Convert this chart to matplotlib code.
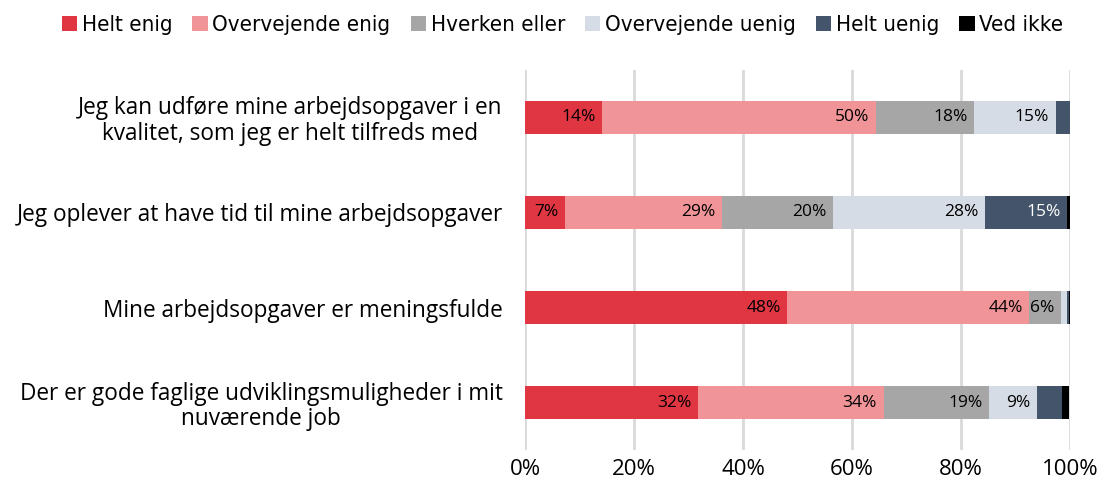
import matplotlib.pyplot as plt
import numpy as np

categories = [
    "Jeg kan udføre mine arbejdsopgaver i en\nkvalitet, som jeg er helt tilfreds med",
    "Jeg oplever at have tid til mine arbejdsopgaver",
    "Mine arbejdsopgaver er meningsfulde",
    "Der er gode faglige udviklingsmuligheder i mit\nnuværende job",
]
series = ["Helt enig", "Overvejende enig", "Hverken eller",
          "Overvejende uenig", "Helt uenig", "Ved ikke"]
colors = ["#e03641", "#f09498", "#a6a6a6", "#d6dce5", "#44546a", "#000000"]
label_colors = ["black", "black", "black", "black", "white", "white"]

helt_enig = [14.1, 7.3, 48.1, 31.7]
overvejende_enig = [50.3, 28.9, 44.4, 34.1]
hverken_eller = [18.0, 20.4, 5.9, 19.4]
overvejende_uenig = [15.0, 27.9, 1.1, 8.8]
helt_uenig = [2.6, 15.0, 0.4, 4.6]
ved_ikke = [0.0, 0.5, 0.1, 1.3]
values = [helt_enig, overvejende_enig, hverken_eller,
          overvejende_uenig, helt_uenig, ved_ikke]

plt.rcParams['font.family'] = ['Open Sans', 'DejaVu Sans']

fig = plt.figure(figsize=(11.03, 4.92), dpi=100)
ax = fig.add_axes([0.476, 0.085, 0.494, 0.773])

y = np.arange(len(categories))
left = np.zeros(len(categories))
for name, vals, c, lc in zip(series, values, colors, label_colors):
    vals = np.array(vals)
    ax.barh(y, vals, left=left, height=0.35, color=c, label=name, zorder=3)
    for i, v in enumerate(vals):
        if v >= 5:
            ax.text(left[i] + v - 1.2, y[i], f"{v:.0f}%", ha='right', va='center',
                    fontsize=12.5, color=lc, zorder=4)
    left += vals

ax.set_xlim(0, 100)
ax.set_ylim(3.5, -0.5)
ax.set_xticks(np.arange(0, 101, 20))
ax.set_xticklabels([f"{t}%" for t in range(0, 101, 20)], fontsize=16)
ax.set_yticks(y)
ax.set_yticklabels(categories, fontsize=16.3, ha='right', multialignment='center',
                   linespacing=1.1)
ax.tick_params(axis='y', length=0, pad=16)
ax.tick_params(axis='x', length=0, pad=6)
ax.xaxis.grid(True, color='#d9d9d9', linewidth=2, zorder=0)
for s in ax.spines.values():
    s.set_visible(False)

handles, labels = ax.get_legend_handles_labels()
fig.legend(handles, labels, loc='upper center', bbox_to_anchor=(0.51, 1.01), ncol=6,
           frameon=False, handlelength=0.7, handleheight=0.7,
           handletextpad=0.2, columnspacing=0.9,
           prop={'family': 'DejaVu Sans', 'stretch': 'condensed', 'size': 16})

fig.savefig("out.png", dpi=100)
